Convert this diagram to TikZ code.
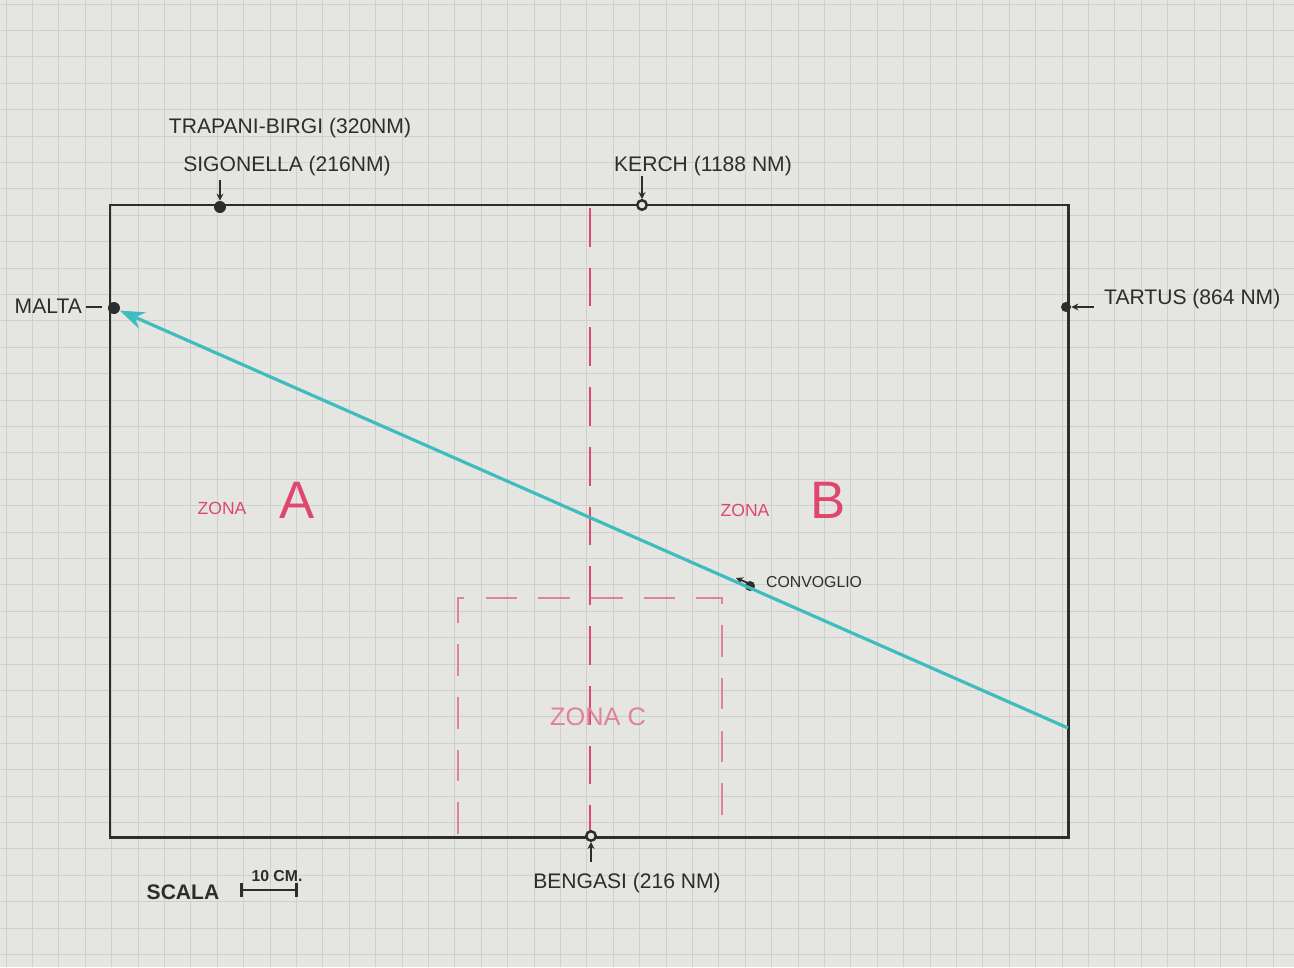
\documentclass[tikz,border=0pt]{standalone}
\usepackage{fontspec}
\setmainfont{Liberation Sans}
\usetikzlibrary{arrows.meta}
\definecolor{paper}{RGB}{229,229,226}
\definecolor{gridln}{RGB}{206,207,206}
\definecolor{pen}{RGB}{45,45,45}
\definecolor{zonered}{RGB}{222,72,108}
\definecolor{zonepink}{RGB}{226,130,150}
\definecolor{route}{RGB}{62,188,190}
\tikzset{
  base/.style={circle,fill=pen,inner sep=0pt,minimum size=0.24cm},
  openbase/.style={circle,draw=pen,fill=paper,line width=1.4pt,inner sep=0pt,minimum size=0.19cm},
  lab/.style={text=pen,font=\large},
  pointer/.style={pen,line width=0.8pt,-{Stealth[length=4pt,width=4pt]}},
  zonelab/.style={text=zonered,font=\normalsize},
}
\begin{document}
\begin{tikzpicture}[x=0.02cm,y=-0.02cm]
\useasboundingbox (0,0) rectangle (1294,967);
\fill[paper] (0,0) rectangle (1294,967);
% squared paper
\foreach \i in {0,...,49}
  \draw[gridln,line width=0.5pt] (6+26.4*\i,0) -- (6+26.4*\i,967);
\foreach \j in {0,...,36}
  \draw[gridln,line width=0.5pt] (0,4+26.4*\j) -- (1294,4+26.4*\j);

% Sea area, the red dashed line splits zone A from zone B.
\draw[pen,line width=1.7pt] (110,205) rectangle (1068,837);
\draw[zonered,line width=1pt,dash pattern=on 22pt off 12pt] (590,208) -- (590,834);
\draw[zonepink,line width=1pt,dash pattern=on 18pt off 12pt] (458,834) -- (458,598) -- (722,598) -- (722,834);

% Bases on the border.
\node[base] (malta) at (114,308) {};
\node[base] (sigonella) at (220,207) {};
\node[openbase] (kerch) at (642,205) {};
\node[base,minimum size=0.2cm] (tartus) at (1066,307) {};
\node[openbase] (bengasi) at (591,836) {};
\node[base,minimum size=0.2cm] (convoglio) at (750,586) {};

\node[lab] (trapanilab) at (290,128) {TRAPANI-BIRGI (320NM)};
\node[lab] (sigonellalab) at (287,166) {SIGONELLA (216NM)};
\node[lab] (kerchlab) at (703,166) {KERCH (1188 NM)};
\node[lab,anchor=east,inner sep=1pt] (maltalab) at (84,306) {MALTA};
\node[lab,anchor=west] (tartuslab) at (1098,299) {TARTUS (864 NM)};
\node[lab] (bengasilab) at (627,883) {BENGASI (216 NM)};
\node[lab,font=\small,anchor=west] (convogliolab) at (760,582) {CONVOGLIO};

\coordinate (sigtail) at (220,180);
\coordinate (kerchtail) at (642,176);
\coordinate (tartustail) at (1094,307);
\coordinate (bengasitail) at (591,862);
\coordinate (convtail) at (748,583);
\coordinate (maltadash) at (102,307);
\draw[pointer] (sigtail) -- (sigonella);
\draw[pointer] (kerchtail) -- (kerch);
\draw[pointer] (tartustail) -- (tartus);
\draw[pointer] (bengasitail) -- (bengasi);
\draw[pointer,line width=1pt] (convtail) -- ++(-12,-5);
\draw[pen,line width=1.4pt] ([xshift=0.04cm]maltalab.east |- maltadash) -- (maltadash);

% Route of the convoy, from the right border back to Malta.
\coordinate (routestart) at (1068,728);
\draw[route,line width=1.8pt,-{Stealth[length=14pt,width=10pt]}] (routestart) -- (malta);

% Zones.
\node[zonelab] (zonaA) at (222,508) {ZONA};
\node[zonelab,font=\fontsize{30}{30}\selectfont] (letterA) at (297,500) {A};
\node[zonelab] (zonaB) at (745,510) {ZONA};
\node[zonelab,font=\fontsize{30}{30}\selectfont] (letterB) at (828,500) {B};
\node[zonelab,text=zonepink,font=\Large] (zonaC) at (598,717) {ZONA C};

% Scale bar.
\node[lab,font=\large\bfseries] (scala) at (183,892) {SCALA};
\coordinate (scaleA) at (240,890);
\coordinate (scaleB) at (298,890);
\draw[pen,line width=1.6pt,{Bar[width=8pt]}-{Bar[width=8pt]}] (scaleA) -- (scaleB);
\node[lab,font=\small\bfseries] (scaletxt) at (277,876) {10 CM.};
\end{tikzpicture}
\end{document}
